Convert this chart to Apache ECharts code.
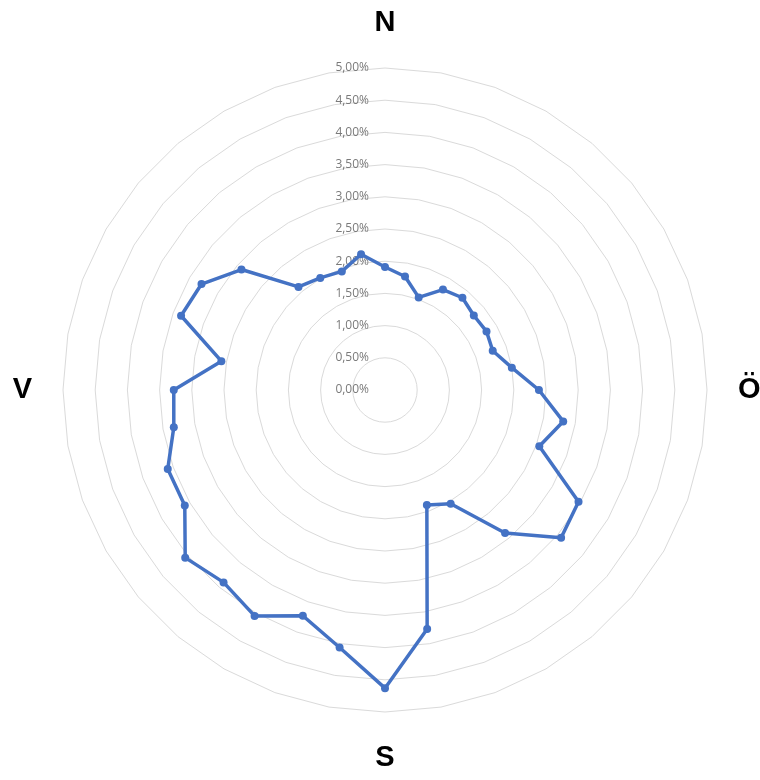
<!DOCTYPE html>
<html>
<head>
<meta charset="utf-8">
<script src="https://cdn.jsdelivr.net/npm/echarts@6/dist/echarts.min.js"></script>
<style>html,body{margin:0;padding:0;background:#fff}#c{width:760px;height:780px}</style>
</head>
<body>
<div id="c"></div>
<script>
// Compass directions, every 10 degrees, clockwise from north
const directions = ['N','','','','','','','','','Ö','','','','','','','','','S','','','','','','','','','V','','','','','','','',''];
// Values in percent, same order as directions (0°, 10°, ..., 350°)
const values = [1.91,1.79,1.53,1.80,1.87,1.80,1.82,1.78,2.00,2.39,2.81,2.55,3.47,3.57,2.90,2.04,1.90,3.77,4.63,4.06,3.73,4.05,3.90,4.05,3.59,3.59,3.33,3.28,2.58,3.37,3.29,2.91,2.09,2.01,1.96,2.14];
const tickValues = [0,0.5,1,1.5,2,2.5,3,3.5,4,4.5,5];

// ECharts radar runs counterclockwise; reorder so the chart runs clockwise
const n = directions.length;
const order = [];
for (let k = 0; k < n; k++) order.push((n - k) % n);
const indicator = order.map(j => ({ name: directions[j], min: 0, max: 5 }));
const radarValues = order.map(j => values[j]);

const chart = echarts.init(document.getElementById('c'), null, { renderer: 'canvas' });
chart.setOption({
  animation: false,
  backgroundColor: '#ffffff',
  radar: {
    center: [385, 390],
    radius: 322,
    startAngle: 90,
    shape: 'polygon',
    splitNumber: 10,
    indicator: indicator,
    nameGap: 31,
    axisName: {
      color: '#000000',
      fontSize: 29,
      fontWeight: 'bold',
      fontFamily: 'Liberation Sans'
    },
    axisLine: { show: false },
    axisTick: { show: false },
    axisLabel: { show: false },
    splitArea: { show: false },
    splitLine: { lineStyle: { color: '#dadada', width: 1 } }
  },
  grid: { left: 385, top: 68, width: 1, height: 322, containLabel: false },
  xAxis: { type: 'value', show: false },
  yAxis: {
    type: 'value',
    min: tickValues[0],
    max: tickValues[tickValues.length - 1],
    interval: 0.5,
    axisLine: { show: false },
    axisTick: { show: false },
    splitLine: { show: false },
    axisLabel: {
      margin: 16,
      color: '#7a7a7a',
      fontSize: 12,
      fontFamily: 'Open Sans',
      formatter: v => v.toFixed(2).replace('.', ',') + '%'
    }
  },
  series: [{
    type: 'radar',
    symbol: 'circle',
    symbolSize: 8,
    lineStyle: { color: '#4472C4', width: 3.5 },
    itemStyle: { color: '#4472C4' },
    data: [{ value: radarValues }]
  }]
});
</script>
</body>
</html>
